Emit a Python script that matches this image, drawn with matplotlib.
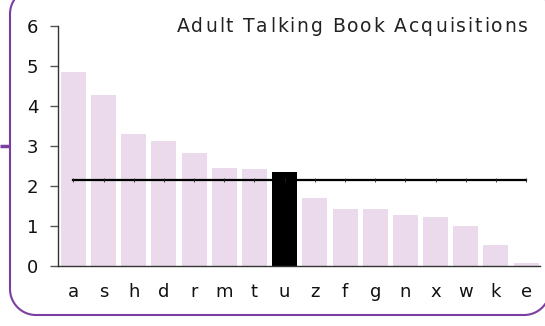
import matplotlib
matplotlib.use("Agg")
import numpy as np
import matplotlib.pyplot as plt
from matplotlib.textpath import TextToPath
from matplotlib.font_manager import FontProperties

# Acquisitions per branch (sorted), with the highlighted branch and the average
categories = ["a", "s", "h", "d", "r", "m", "t", "u", "z", "f", "g", "n", "x", "w", "k", "e"]
values = [4.85, 4.27, 3.30, 3.12, 2.82, 2.45, 2.42, 2.34, 1.70, 1.42, 1.42, 1.27, 1.22, 1.00, 0.52, 0.07]
highlight = "u"
average = 2.14
title = "Adult Talking Book Acquisitions"
yticks = [0, 1, 2, 3, 4, 5, 6]

W, H = 545, 326
plt.rcParams["font.family"] = ["DejaVu Sans"]
fig = plt.figure(figsize=(W / 100, H / 100), dpi=100)

PURPLE = "#7a3fa0"
PINK = "#eadaec"
FS = 13

# overlay in pixel units (y downward) for the frame and the title
over = fig.add_axes([0, 0, 1, 1], zorder=0)
over.set_xlim(0, W)
over.set_ylim(H, 0)
over.axis("off")


def rounded_rect(x0, y0, x1, y1, r, n=30):
    pts = []
    corners = [((x1 - r, y0 + r), -90, 0), ((x1 - r, y1 - r), 0, 90),
               ((x0 + r, y1 - r), 90, 180), ((x0 + r, y0 + r), 180, 270)]
    for (cx, cy), a0, a1 in corners:
        t = np.radians(np.linspace(a0, a1, n))
        pts.extend(zip(cx + r * np.cos(t), cy + r * np.sin(t)))
    pts.append(pts[0])
    return np.array(pts)


fr = rounded_rect(10, -12, 550, 315, 26)
over.plot(fr[:, 0], fr[:, 1], color=PURPLE, lw=1.5, clip_on=False)
over.plot([0, 10], [146, 146], color=PURPLE, lw=2.5, solid_capstyle="butt", clip_on=False)

# title with a little extra tracking, right-aligned
TFS = 13.5
fp = FontProperties(family="DejaVu Sans", size=TFS)
ttp = TextToPath()
tracking = 1.9
widths = []
for ch in title:
    w, _, _ = ttp.get_text_width_height_descent(ch, fp, ismath=False)
    widths.append(w * 100 / 72)
total = sum(widths) + tracking * (len(title) - 1)
xpos = 528 - total
for ch, w in zip(title, widths):
    over.text(xpos, 26, ch, ha="left", va="center", fontproperties=fp, color="#222222")
    xpos += w + tracking

ax = fig.add_axes([58 / W, 1 - 266 / H, (540 - 58) / W, (266 - 26) / H], zorder=1)

x = list(range(len(categories)))
colors = ["black" if c == highlight else PINK for c in categories]
ax.bar(x, values, width=0.83, color=colors, edgecolor="none", zorder=2)
ax.plot([0, len(categories) - 1], [average, average], color="black", lw=1.6, zorder=3)
ax.plot(x, [average] * len(x), ls="none", marker="|", ms=2.5, mew=0.6, color="#222222", zorder=3)

ax.set_xlim(-0.51, 15.46)
ax.set_ylim(0, 6)
ax.set_yticks(yticks)
ax.set_yticklabels([str(t) for t in yticks], fontsize=FS, color="#111111")
ax.set_xticks(x)
ax.set_xticklabels(categories, fontsize=FS, color="#111111")
ax.tick_params(axis="x", length=0, pad=12)
ax.tick_params(axis="y", length=6, width=1, color="#555555", pad=8)
for s in ["top", "right"]:
    ax.spines[s].set_visible(False)
for s in ["left", "bottom"]:
    ax.spines[s].set_color("#333333")
    ax.spines[s].set_linewidth(1.0)
ax.patch.set_alpha(0)

fig.savefig("out.png", dpi=100)
